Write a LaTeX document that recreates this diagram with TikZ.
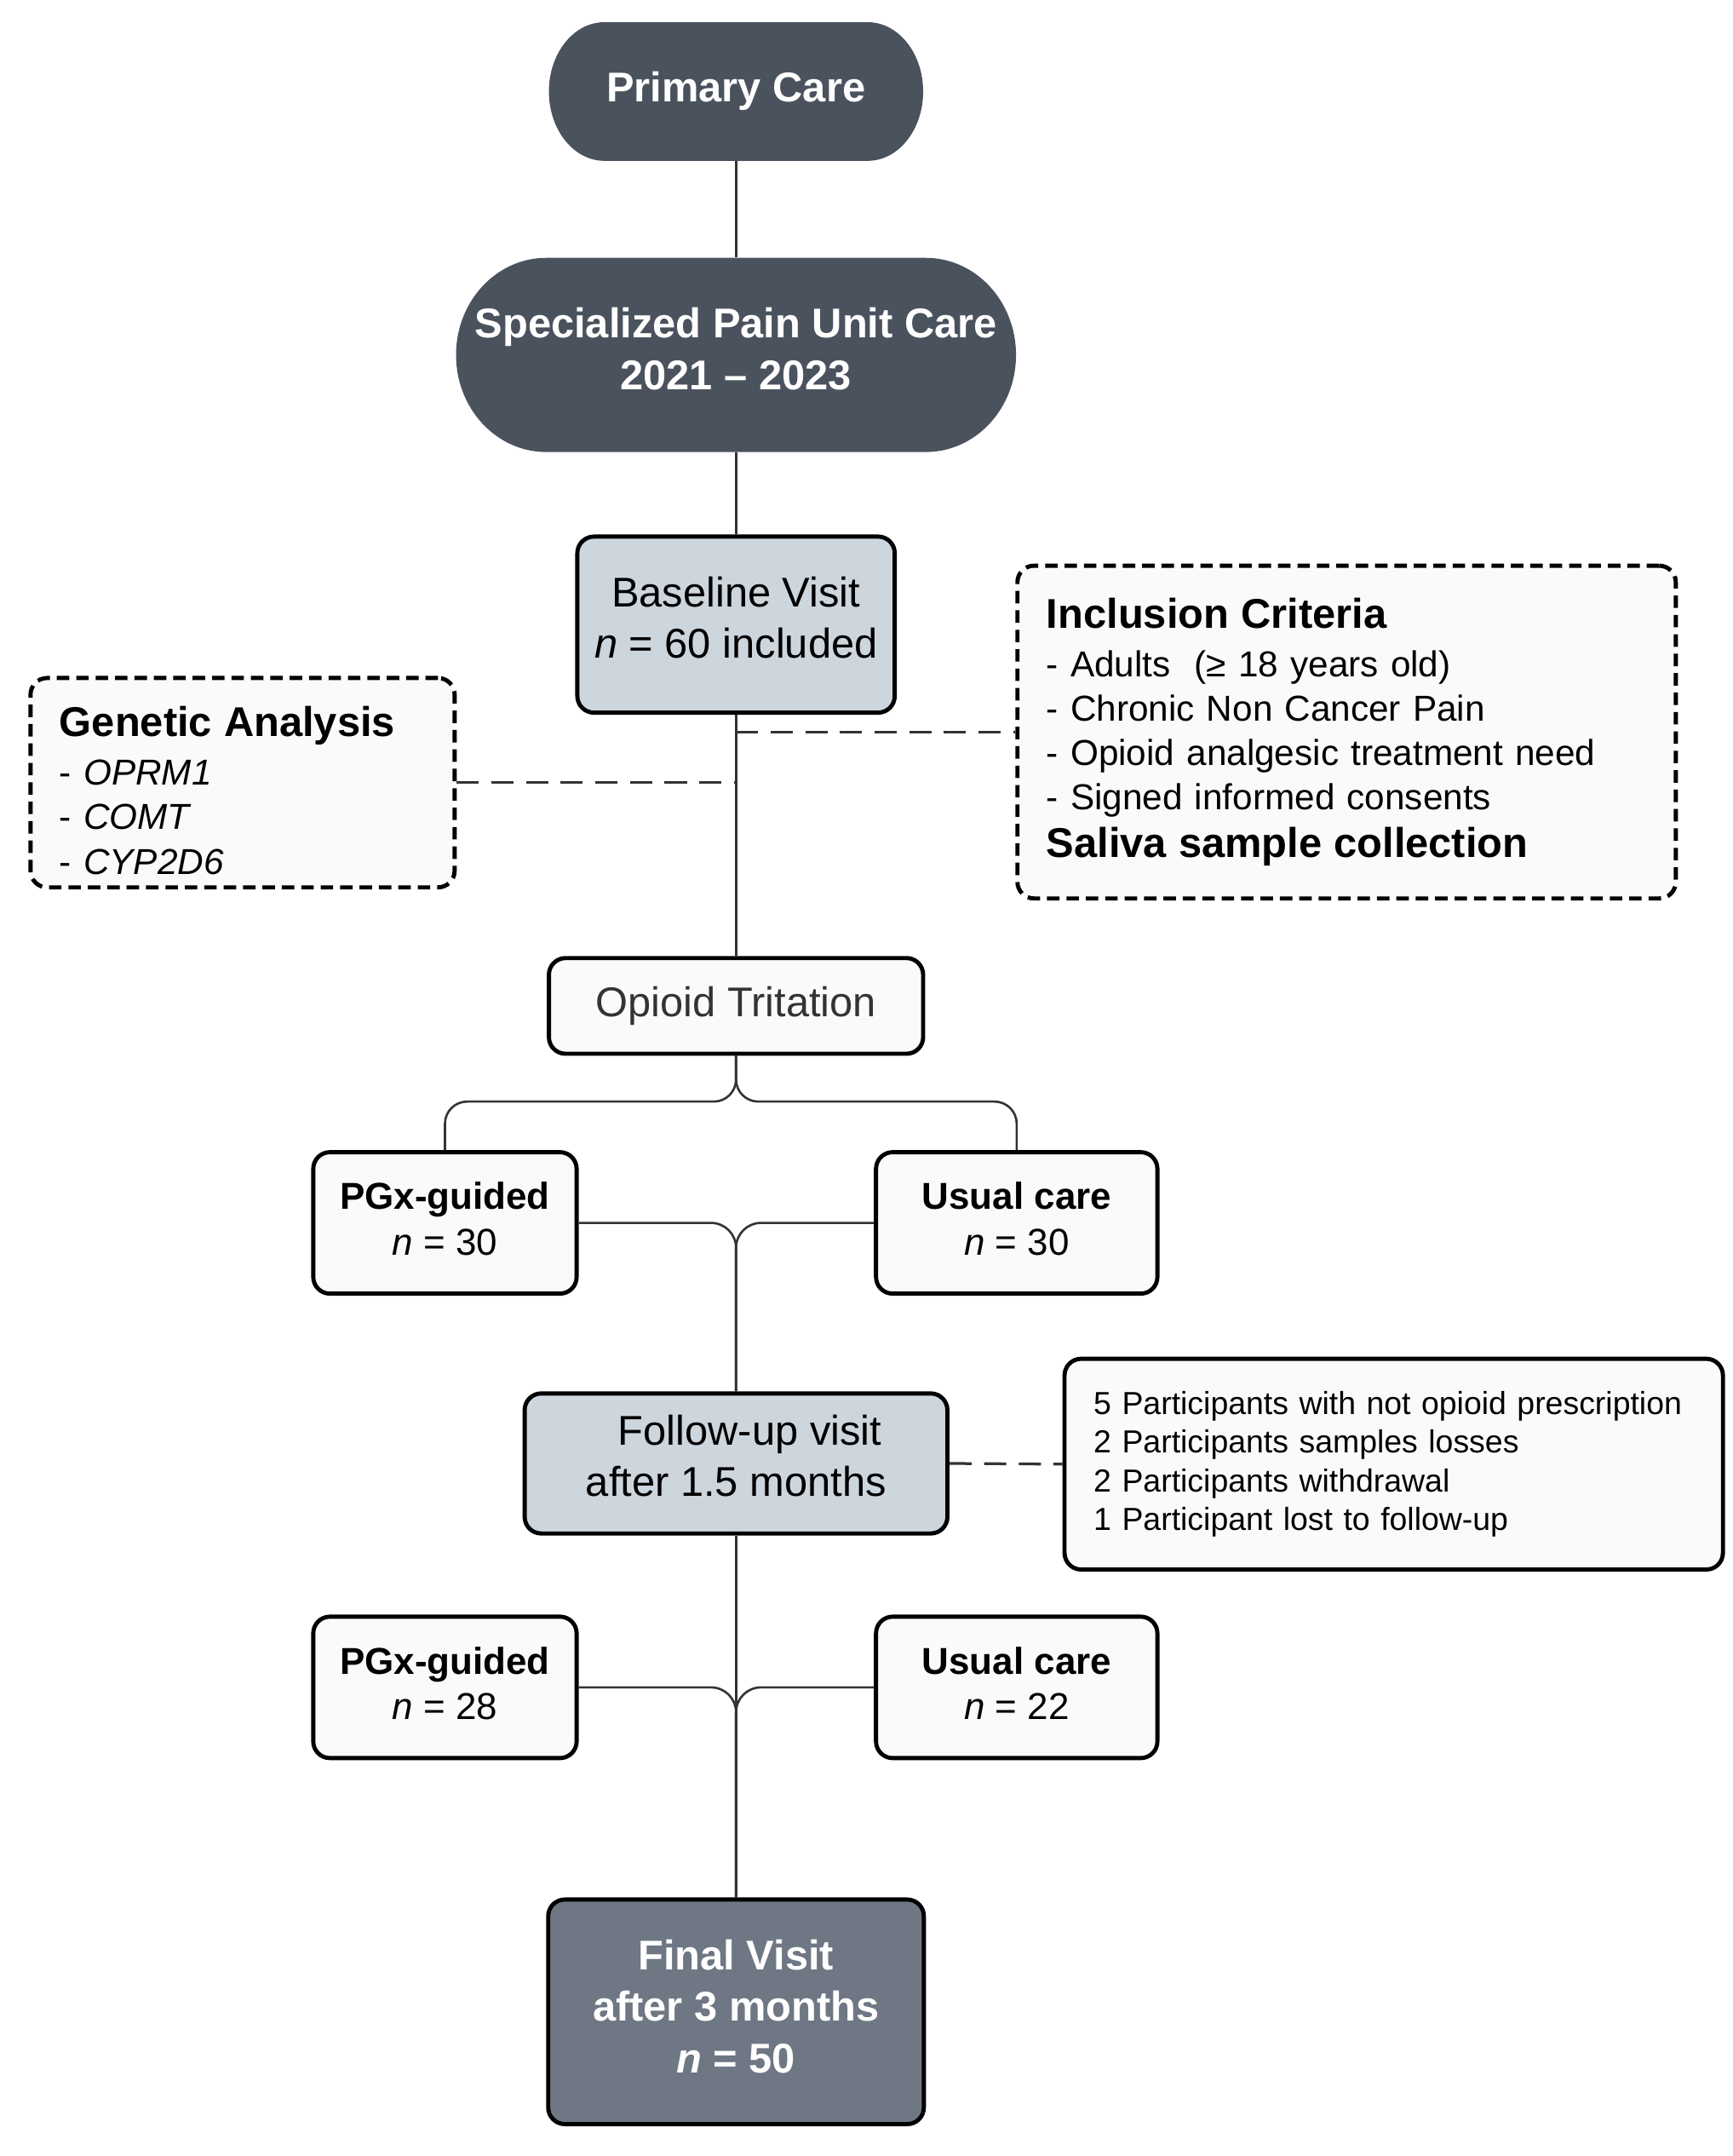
\documentclass[tikz,border=0pt]{standalone}
\usepackage{fontspec}
\setmainfont{Liberation Sans}
\usetikzlibrary{calc}
\definecolor{darkslate}{RGB}{74,82,93}
\definecolor{finalslate}{RGB}{110,119,131}
\definecolor{lightslate}{RGB}{205,213,221}
\definecolor{boxfill}{RGB}{250,250,250}
\definecolor{linegray}{RGB}{51,51,51}
\definecolor{textgray}{RGB}{51,51,51}
\newcommand\lowstrut[1]{\rule[-#1]{0pt}{#1}}
\newcommand\highstrut[1]{\rule{0pt}{#1}}
\begin{document}
\begin{tikzpicture}[x=1pt,y=-1pt,
  stadium/.style 2 args={fill=white, inner sep=0pt, text=white,
    path picture={\fill[darkslate]
      ([xshift=#1]path picture bounding box.north west) --
      ([xshift=-#1]path picture bounding box.north east)
      arc[start angle=90,end angle=-90,x radius=#1,y radius=#2] --
      ([xshift=#1]path picture bounding box.south west)
      arc[start angle=270,end angle=90,x radius=#1,y radius=#2] -- cycle;}},
  box/.style={draw=black, line width=3pt, rounded corners=12pt, fill=boxfill, align=center, inner sep=0pt},
  dbox/.style={draw=black, line width=3pt, dash pattern=on 9pt off 5pt, rounded corners=12pt, fill=boxfill, align=left, inner xsep=21pt, inner ysep=0pt},
  conn/.style={draw=linegray, line width=1.6pt},
  dconn/.style={draw=linegray, line width=2pt, dash pattern=on 16pt off 9pt},
  fbig/.style={font=\fontsize{30pt}{37pt}\selectfont},
  fmid/.style={font=\fontsize{27pt}{33pt}\selectfont},
  fitem/.style={font=\fontsize{26pt}{32pt}\selectfont},
  fsmall/.style={font=\fontsize{23pt}{28pt}\selectfont}
]
\useasboundingbox[fill=white] (0,0) rectangle (1250,1555);

% main column
\node[stadium={40pt}{50pt}, minimum width=270pt, minimum height=100pt, fbig] (pc) at (531,66) {\bfseries Primary Care\lowstrut{7pt}};
\node[stadium={65pt}{70pt}, minimum width=404pt, minimum height=140pt, fbig, align=center] (spu) at (531,256) {\bfseries Specialized Pain Unit Care\\\bfseries 2021 -- 2023\lowstrut{9pt}};
\node[box, fill=lightslate, minimum width=229pt, minimum height=127pt, fbig] (bl) at (531,450.5) {Baseline Visit\\\textit{n} = 60 included\lowstrut{10pt}};
\node[box, minimum width=270pt, minimum height=69pt, fbig, text=textgray] (opi) at (531,725.5) {Opioid Tritation};
\node[box, minimum width=190pt, minimum height=102pt, fmid] (pg1) at (321,882) {\textbf{PGx-guided}\\\textit{n} = 30\lowstrut{6pt}};
\node[box, minimum width=203pt, minimum height=102pt, fmid] (uc1) at (733.5,882) {\textbf{Usual care}\\\textit{n} = 30\lowstrut{6pt}};
\node[box, fill=lightslate, minimum width=305pt, minimum height=101pt, fbig] (fu) at (531,1055.5) {\hspace*{20pt}Follow-up visit\\after 1.5 months\lowstrut{11pt}};
\node[box, minimum width=190pt, minimum height=102pt, fmid] (pg2) at (321,1217) {\textbf{PGx-guided}\\\textit{n} = 28\lowstrut{6pt}};
\node[box, minimum width=203pt, minimum height=102pt, fmid] (uc2) at (733.5,1217) {\textbf{Usual care}\\\textit{n} = 22\lowstrut{6pt}};
\node[box, fill=finalslate, text=white, minimum width=271pt, minimum height=162pt, fbig] (fv) at (531,1451) {\bfseries Final Visit\\\bfseries after 3 months\\\textbf{\textit{n} = 50}\lowstrut{8pt}};

% side boxes
\node[dbox, minimum width=475pt, minimum height=240pt, text width=433pt, fitem] (inc) at (971.5,528)
  {{\fontsize{30pt}{32pt}\selectfont\bfseries Inclusion Criteria}\\[3pt]
   - Adults\ \ (≥ 18 years old)\\
   - Chronic Non Cancer Pain\\
   - Opioid analgesic treatment need\\
   - Signed informed consents\\[2pt]
   {\fontsize{30pt}{32pt}\selectfont\bfseries Saliva sample collection}};
\node[dbox, minimum width=306pt, minimum height=151pt, text width=264pt, fitem] (gen) at (175,564.5)
  {{\fontsize{30pt}{32pt}\selectfont\bfseries\highstrut{33pt}Genetic Analysis}\\[3pt]
   - \textit{OPRM1}\\
   - \textit{COMT}\\
   - \textit{CYP2D6}};
\node[box, align=left, minimum width=475pt, minimum height=152pt, text width=433pt, inner xsep=21pt, fsmall] (det) at (1005.5,1056)
  {5 Participants with not opioid prescription\\
   2 Participants samples losses\\
   2 Participants withdrawal\\
   1 Participant lost to follow-up};

% connectors
\draw[conn] (pc.south) -- (spu.north);
\draw[conn] (spu.south) -- (bl.north);
\draw[conn] (bl.south) -- (opi.north);
\coordinate (tg) at (bl.south |- gen.east);
\coordinate (ti) at (bl.south |- inc.west);
\draw[dconn] (gen.east) -- (tg);
\draw[dconn] (ti) -- (inc.west);
\draw[conn, rounded corners=16pt] (opi.south) |- ($(pg1.north)+(0,-35)$) -- (pg1.north);
\draw[conn, rounded corners=16pt] (opi.south) |- ($(uc1.north)+(0,-35)$) -- (uc1.north);
\draw[conn, rounded corners=18pt] (pg1.east) -| (fu.north);
\draw[conn, rounded corners=18pt] (uc1.west) -| (fu.north);
\draw[dconn] (fu.east) -- (det.west);
\draw[conn] (fu.south) -- (fv.north);
\draw[conn, rounded corners=18pt] (pg2.east) -| (fv.north);
\draw[conn, rounded corners=18pt] (uc2.west) -| (fv.north);
\end{tikzpicture}
\end{document}
